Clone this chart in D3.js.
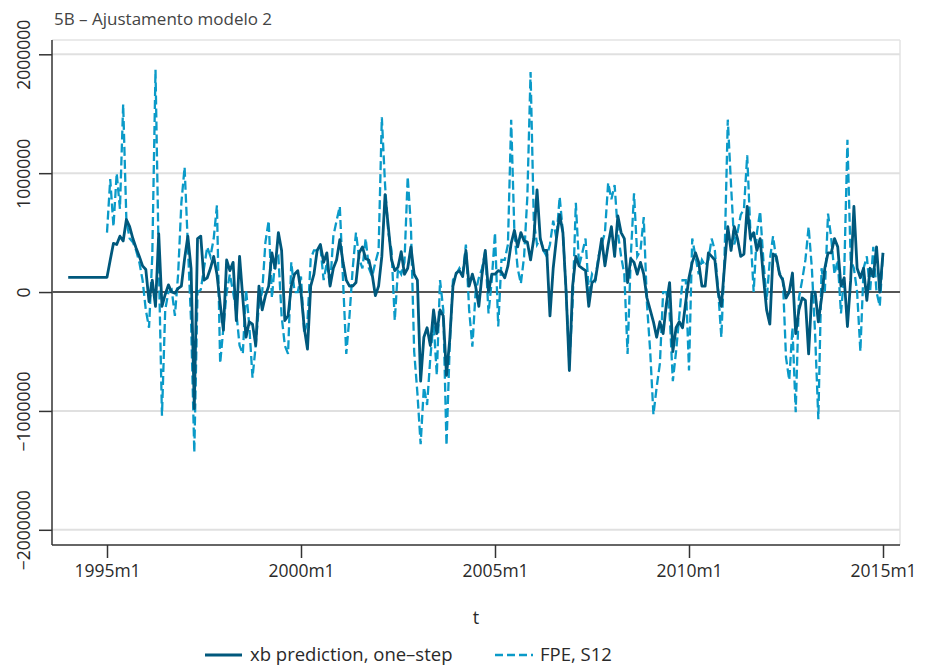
<!DOCTYPE html>
<html><head><meta charset="utf-8">
<script src="https://cdn.jsdelivr.net/npm/d3@7/dist/d3.min.js"></script>
<style>
body{margin:0;background:#fff;}
svg{display:block;font-family:"Open Sans","Noto Sans",sans-serif;}
</style></head><body>
<svg id="chart" width="925" height="667"></svg>
<script>
const title = "5B – Ajustamento modelo 2";
const seriesNames = ["xb prediction, one–step", "FPE, S12"];
// monthly, starting 1994m1
const xbValues = [
124000,124000,124000,124000,124000,124000,124000,124000,124000,124000,124000,124000,
124000,270000,410000,400000,470000,430000,610000,550000,450000,370000,300000,220000,
190000,-80000,100000,-120000,490000,-120000,-20000,60000,0,-10000,30000,50000,
280000,470000,200000,-980000,450000,470000,100000,120000,200000,300000,150000,-100000,
-320000,270000,180000,250000,-240000,300000,-50000,-380000,-250000,-270000,-450000,50000,
-150000,-30000,50000,330000,200000,500000,350000,-240000,-200000,50000,150000,180000,
0,-300000,-480000,50000,150000,350000,400000,250000,330000,50000,200000,270000,
440000,250000,100000,50000,50000,80000,330000,380000,280000,270000,150000,-30000,
50000,300000,820000,550000,270000,180000,210000,340000,150000,200000,380000,150000,
100000,-750000,-380000,-300000,-450000,-150000,-350000,-150000,-200000,-700000,-400000,50000,
160000,180000,130000,350000,50000,150000,50000,-120000,150000,350000,0,150000,
150000,180000,170000,120000,220000,410000,520000,380000,500000,430000,420000,270000,
450000,860000,450000,350000,350000,-200000,200000,450000,650000,500000,0,-660000,
50000,300000,220000,200000,180000,-120000,80000,100000,270000,450000,220000,400000,
550000,300000,640000,500000,450000,80000,280000,250000,150000,250000,150000,-50000,
-150000,-250000,-380000,-250000,-350000,-100000,80000,-500000,-300000,-250000,-300000,-80000,
120000,250000,330000,250000,50000,50000,330000,300000,270000,0,-120000,220000,
550000,350000,550000,450000,300000,320000,720000,450000,500000,350000,450000,130000,
-150000,-270000,320000,300000,150000,100000,-50000,0,160000,-350000,-150000,-50000,
-70000,-520000,0,0,-250000,-50000,200000,330000,330000,450000,380000,50000,
120000,-290000,100000,720000,200000,120000,200000,-70000,200000,130000,380000,0,
330000
];
const fpeValues = [
null,null,null,null,null,null,null,null,null,null,null,null,
500000,950000,550000,1000000,700000,1580000,600000,450000,420000,350000,250000,100000,
-150000,-300000,300000,1870000,270000,-1040000,-150000,0,20000,-200000,150000,750000,
1050000,400000,-250000,-1350000,0,20000,200000,380000,300000,450000,730000,-600000,
-300000,0,150000,0,-170000,-450000,-520000,20000,-280000,-720000,-450000,-100000,
0,420000,600000,-50000,270000,300000,-200000,-450000,-520000,250000,0,0,
130000,-350000,-250000,280000,350000,350000,380000,100000,250000,50000,470000,600000,
720000,100000,-520000,-200000,200000,500000,280000,200000,450000,200000,130000,250000,
350000,1470000,900000,500000,350000,-240000,200000,150000,250000,970000,550000,-500000,
-850000,-1280000,-800000,-950000,-550000,-250000,-700000,100000,-150000,-1290000,-450000,100000,
150000,200000,150000,400000,-150000,-460000,0,120000,200000,350000,-180000,100000,
500000,-290000,270000,270000,400000,1450000,500000,200000,70000,300000,800000,1850000,
600000,400000,450000,350000,300000,400000,600000,450000,800000,500000,0,-600000,
-100000,750000,220000,330000,450000,0,150000,100000,300000,400000,500000,920000,
780000,900000,500000,300000,150000,-520000,300000,830000,300000,350000,630000,-100000,
-500000,-1030000,-800000,-600000,0,0,-180000,-750000,-500000,-200000,100000,100000,
-660000,450000,300000,150000,270000,220000,270000,450000,350000,20000,-380000,300000,
1450000,900000,400000,500000,650000,700000,1150000,500000,0,500000,680000,270000,
-70000,270000,470000,270000,160000,130000,-550000,-740000,-300000,-1010000,-50000,100000,
270000,550000,200000,-350000,-1070000,200000,0,660000,450000,150000,270000,-180000,
150000,1280000,270000,200000,0,-500000,200000,300000,0,380000,0,-120000,
330000
];
const xTickMonths = [12, 72, 132, 192, 252];
const xTickLabels = ["1995m1", "2000m1", "2005m1", "2010m1", "2015m1"];
const yTickValues = [-2000000, -1000000, 0, 1000000, 2000000];
const xAxisTitle = "t";

(function () {
const svg = d3.select("#chart");
const pL = 52, pR = 900, pT = 40, pB = 545;
const x = d3.scaleLinear().domain([0, 252]).range([68.2, 883]);
const y = d3.scaleLinear().domain([-2000000, 2000000]).range([529.8, 54.3]);
const xbCol = "#00587c", fpeCol = "#0a9ac8", textCol = "#2a2a2a";
const ff = '"Open Sans","Noto Sans",sans-serif';

svg.append("line").attr("x1", pL).attr("x2", pR).attr("y1", pT).attr("y2", pT)
  .attr("stroke", "#e3e3e3").attr("stroke-width", 1.5);
svg.append("line").attr("x1", pR).attr("x2", pR).attr("y1", pT).attr("y2", pB)
  .attr("stroke", "#e3e3e3").attr("stroke-width", 1.5);

svg.append("g").selectAll("line").data(yTickValues.filter(d => d !== 0)).join("line")
  .attr("x1", pL).attr("x2", pR).attr("y1", d => y(d)).attr("y2", d => y(d))
  .attr("stroke", "#e0e0e0").attr("stroke-width", 2);

const yAxis = svg.append("g").attr("transform", `translate(${pL},0)`)
  .call(d3.axisLeft(y).tickValues(yTickValues).tickSize(13).tickSizeOuter(0)
    .tickFormat(d => (d < 0 ? "\u2212" : "") + Math.abs(d)));
yAxis.select(".domain").attr("d", `M0,${pT}V${pB}`).attr("stroke", "#333").attr("stroke-width", 1.5);
yAxis.selectAll(".tick line").attr("stroke", "#333").attr("stroke-width", 1.5);
yAxis.selectAll(".tick text").attr("transform", "rotate(-90)")
  .attr("x", 0).attr("y", -22).attr("dy", 0)
  .attr("text-anchor", "middle").attr("font-size", 17.5).attr("fill", textCol)
  .attr("font-family", ff);

const xAxis = svg.append("g").attr("transform", `translate(0,${pB})`)
  .call(d3.axisBottom(x).tickValues(xTickMonths).tickSize(13).tickSizeOuter(0)
    .tickFormat((d, i) => xTickLabels[i]));
xAxis.select(".domain").attr("d", `M${pL},0H${pR}`).attr("stroke", "#333").attr("stroke-width", 1.5);
xAxis.selectAll(".tick line").attr("stroke", "#333").attr("stroke-width", 1.5);
xAxis.selectAll(".tick text").attr("y", 32).attr("dy", 0).attr("font-size", 17.5).attr("fill", textCol)
  .attr("font-family", ff);

svg.append("line").attr("x1", pL).attr("x2", pR).attr("y1", y(0)).attr("y2", y(0))
  .attr("stroke", "#555").attr("stroke-width", 2);

const lineGen = d3.line().defined(d => d != null).x((d, i) => x(i)).y(d => y(d));
svg.append("path").datum(fpeValues).attr("d", lineGen).attr("fill", "none")
  .attr("stroke", fpeCol).attr("stroke-width", 2.3).attr("stroke-dasharray", "9,4");
svg.append("path").datum(xbValues).attr("d", lineGen).attr("fill", "none")
  .attr("stroke", xbCol).attr("stroke-width", 2.8).attr("stroke-linejoin", "round");

svg.append("text").attr("x", 54).attr("y", 25).attr("font-size", 17).attr("fill", "#444")
  .text(title);
svg.append("text").attr("x", 476).attr("y", 624).attr("text-anchor", "middle")
  .attr("font-size", 18).attr("fill", textCol).text(xAxisTitle);

const lg = svg.append("g");
lg.append("line").attr("x1", 205).attr("x2", 242).attr("y1", 655).attr("y2", 655)
  .attr("stroke", xbCol).attr("stroke-width", 3);
lg.append("text").attr("x", 250).attr("y", 661).attr("font-size", 18.5).attr("fill", textCol).text(seriesNames[0]);
lg.append("line").attr("x1", 495).attr("x2", 533).attr("y1", 655).attr("y2", 655)
  .attr("stroke", fpeCol).attr("stroke-width", 2.5).attr("stroke-dasharray", "8,4");
lg.append("text").attr("x", 540).attr("y", 661).attr("font-size", 18.5).attr("fill", textCol).text(seriesNames[1]);
})();
</script>
</body></html>
